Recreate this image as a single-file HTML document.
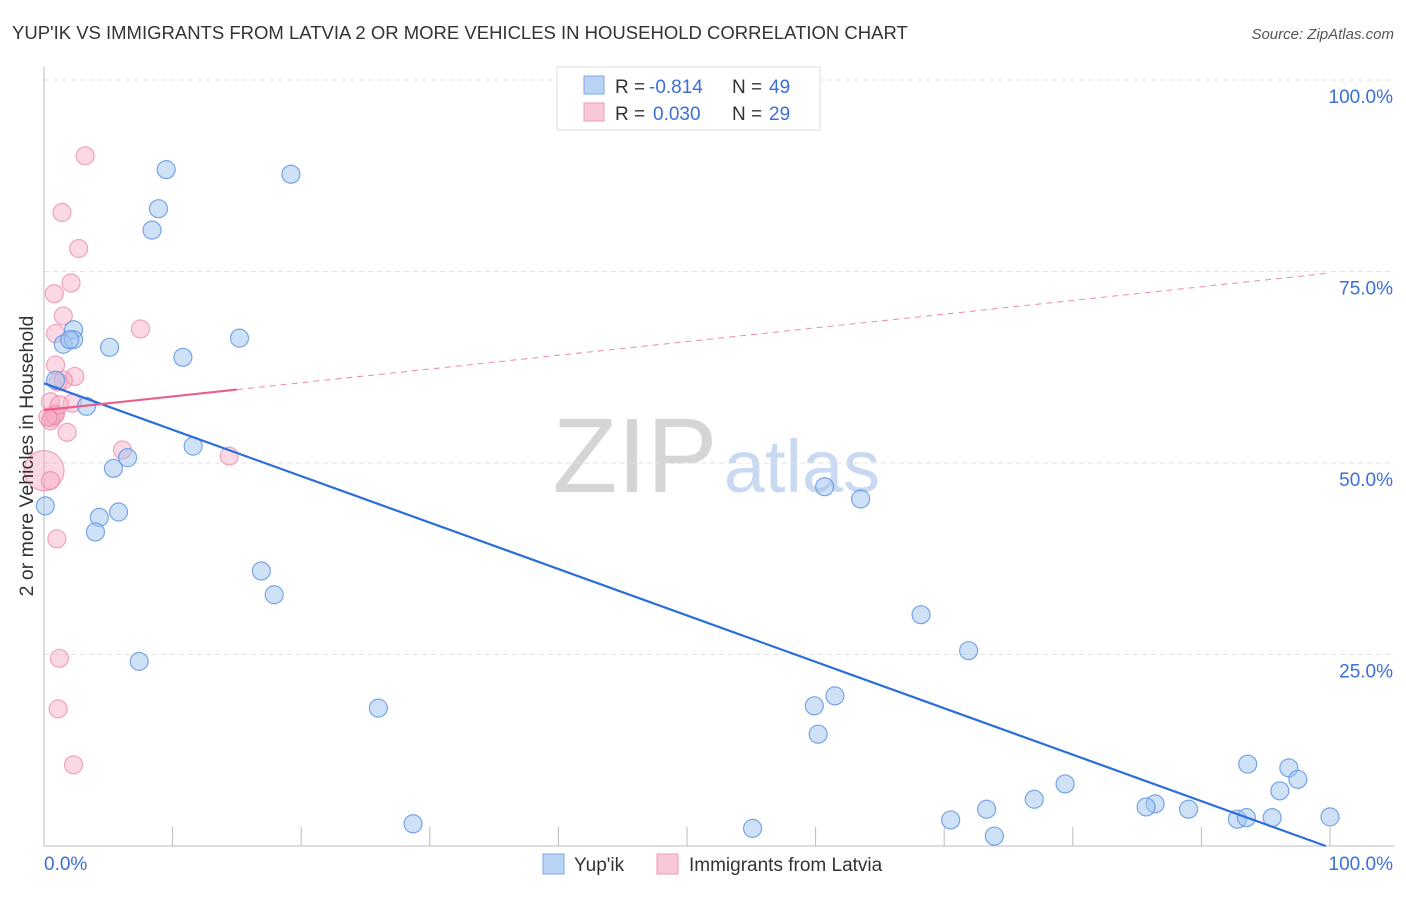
<!DOCTYPE html>
<html><head><meta charset="utf-8"><style>
body{margin:0;background:#fff;font-family:"Liberation Sans",sans-serif}
svg text{font-family:"Liberation Sans",sans-serif}
</style></head><body>
<svg id="chart" width="1406" height="892">
<text x="12" y="39" font-size="18.5" fill="#333">YUP'IK VS IMMIGRANTS FROM LATVIA 2 OR MORE VEHICLES IN HOUSEHOLD CORRELATION CHART</text>
<text x="1394" y="39" font-size="15" fill="#555" font-style="italic" text-anchor="end">Source: ZipAtlas.com</text>
<g>
<text x="635" y="492" font-size="106" fill="#d5d5d5" font-family="Liberation Serif,serif" text-anchor="middle">ZIP</text>
<text x="802" y="492" font-size="74" fill="#c9d9f2" text-anchor="middle">atlas</text>
</g>
<g id="grid"></g>
<g id="axes"></g>
<g id="marks"></g>
<g>
<rect x="557" y="67" width="263" height="63" fill="#fff" stroke="#ddd"/>
<rect x="584" y="76" width="20" height="18" fill="#b9d3f5" stroke="#7fa9e6"/>
<rect x="584" y="103" width="20" height="18" fill="#f8c8d6" stroke="#ec9bb3"/>
<g font-size="19">
<text x="615" y="93" fill="#333">R =</text><text x="649" y="93" fill="#3a6fd8">-0.814</text>
<text x="732" y="93" fill="#333">N =</text><text x="769" y="93" fill="#3a6fd8">49</text></g>
<g font-size="19">
<text x="615" y="120" fill="#333">R =</text><text x="653" y="120" fill="#3a6fd8">0.030</text>
<text x="732" y="120" fill="#333">N =</text><text x="769" y="120" fill="#3a6fd8">29</text></g>
</g>
<g>
<rect x="543" y="854" width="21" height="20" fill="#b9d3f5" stroke="#7fa9e6"/>
<text x="574" y="871" font-size="19" fill="#333">Yup'ik</text>
<rect x="657" y="854" width="21" height="20" fill="#f8c8d6" stroke="#ec9bb3"/>
<text x="689" y="871" font-size="19" fill="#333">Immigrants from Latvia</text>
</g>
<text transform="translate(33,456) rotate(-90)" font-size="19.5" fill="#333" text-anchor="middle">2 or more Vehicles in Household</text>
</svg>
<script>
const yTicks=[25,50,75,100];
const yTickLabels=["25.0%","50.0%","75.0%","100.0%"];
const xTicks=[0,10,20,30,40,50,60,70,80,90,100];
const blueX=[9.5,19.2,8.9,8.4,2.3,15.2,1.5,2.3,5.1,10.8,0.9,3.3,11.6,6.5,5.4,60.7,0.1,63.5,5.8,4.3,4.0,16.9,17.9,68.2,7.4,71.9,61.5,59.9,26.0,60.2,93.6,96.8,97.5,79.4,96.1,77.0,86.4,85.7,89.0,73.3,95.5,100,70.5,92.8,93.5,28.7,55.1,73.9,2.0];
const blueY=[88.3,87.7,83.2,80.4,67.4,66.3,65.5,66.1,65.1,63.8,60.8,57.4,52.2,50.7,49.3,46.9,44.4,45.3,43.6,42.9,41.0,35.9,32.8,30.2,24.1,25.5,19.6,18.3,18.0,14.6,10.7,10.2,8.7,8.1,7.2,6.1,5.5,5.1,4.8,4.8,3.7,3.8,3.4,3.5,3.7,2.9,2.3,1.3,66.1];
const pinkX=[3.2,1.4,2.7,2.1,0.8,1.5,7.5,0.9,0.9,2.4,1.5,1.1,2.2,0.5,0.9,0.6,0.5,1.8,6.1,14.4,0.0,0.5,1.0,1.2,1.1,2.3,0.8,1.2,0.3];
const pinkY=[90.1,82.7,78.0,73.5,72.1,69.2,67.5,66.9,62.8,61.3,60.8,60.6,57.8,58.0,56.4,55.9,55.5,54.0,51.7,50.9,49.0,47.7,40.1,24.5,17.9,10.6,56.2,57.6,56.0];
const pinkR=[9,9,9,9,9,9,9,9,9,9,9,9,9,9,9,9,9,9,9,9,20,9,9,9,9,9,9,9,9];
const blueFit=[60.4,-0.606];
const pinkFit=[56.9,0.179];
const pinkSolidEnd=15;
const X0=44,X1=1330,Y0=846,Y1=80;
const sx=v=>X0+(X1-X0)*v/100, sy=v=>Y0-(Y0-Y1)*v/100;
const NS="http://www.w3.org/2000/svg";
function mk(tag,attrs,parent){const e=document.createElementNS(NS,tag);for(const k in attrs)e.setAttribute(k,attrs[k]);parent.appendChild(e);return e;}
const grid=document.getElementById('grid'),axes=document.getElementById('axes'),marks=document.getElementById('marks');
yTicks.forEach((t,i)=>{
 const l=mk('line',{x1:X0,x2:1394,y1:sy(t),y2:sy(t),stroke:'#e2e2e2','stroke-dasharray':'5,4'},grid);
 
 
 const tx=mk('text',{x:1393,y:sy(t)+23,'font-size':19,fill:'#3a6fd8','text-anchor':'end'},axes);
 tx.textContent=yTickLabels[i];
 
 
});
const ya=mk('line',{x1:X0,x2:X0,y1:67,y2:Y0,stroke:'#bbb'},axes);


const xa=mk('line',{x1:X0,x2:1394,y1:Y0,y2:Y0,stroke:'#bbb'},axes);


xTicks.forEach(t=>{
 const l=mk('line',{x1:sx(t),x2:sx(t),y1:Y0,y2:Y0-19,stroke:'#bbb'},axes);
 
 
});
[["0.0%",X0,'start'],["100.0%",1393,'end']].forEach(a=>{
 const tx=mk('text',{x:a[1],y:870,'font-size':19,fill:'#3a6fd8','text-anchor':a[2]},axes);
 tx.textContent=a[0];
 
 
});
pinkX.forEach((x,i)=>{
 const c=mk('circle',{cx:sx(x),cy:sy(pinkY[i]),r:pinkR[i],fill:'rgba(246,170,195,0.45)',stroke:'rgba(236,130,165,0.7)','stroke-width':1.2},marks);
 
 
});
blueX.forEach((x,i)=>{
 const c=mk('circle',{cx:sx(x),cy:sy(blueY[i]),r:9,fill:'rgba(160,196,240,0.5)',stroke:'rgba(90,145,225,0.8)','stroke-width':1.2},marks);
 
 
});
const bEnd=Math.min(100,-blueFit[0]/blueFit[1]);
const bl=mk('line',{x1:sx(0),y1:sy(blueFit[0]),x2:sx(bEnd),y2:sy(blueFit[0]+blueFit[1]*bEnd),stroke:'#2a6fd8','stroke-width':2.2},marks);


const pl=mk('line',{x1:sx(0),y1:sy(pinkFit[0]),x2:sx(pinkSolidEnd),y2:sy(pinkFit[0]+pinkFit[1]*pinkSolidEnd),stroke:'#e8608a','stroke-width':2.2},marks);


const pd=mk('line',{x1:sx(pinkSolidEnd),y1:sy(pinkFit[0]+pinkFit[1]*pinkSolidEnd),x2:sx(100),y2:sy(pinkFit[0]+pinkFit[1]*100),stroke:'#eb8aa8','stroke-width':1,'stroke-dasharray':'6,5'},marks);


</script>
</body></html>
